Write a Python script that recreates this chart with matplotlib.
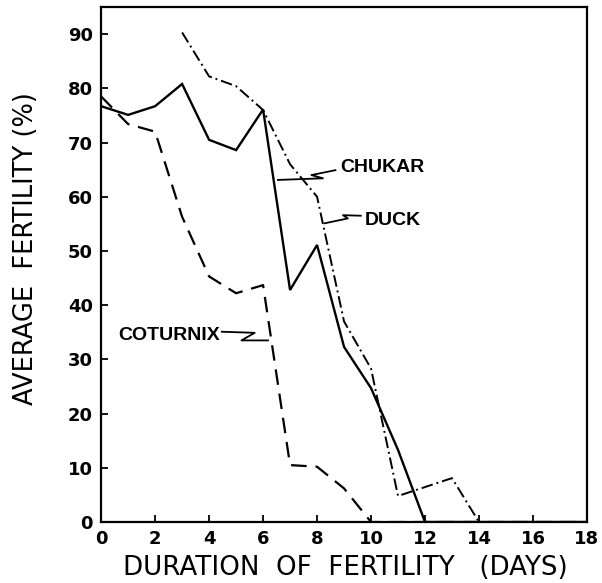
import matplotlib
matplotlib.use('Agg')
import matplotlib.pyplot as plt

# data
chukar_days = [0, 1, 2, 3, 4, 5, 6, 7, 8, 9, 10, 11, 12, 18]
chukar_fert = [76.7, 75.1, 76.7, 80.8, 70.5, 68.6, 76.1, 42.8, 51.1, 32.3, 24.7, 13.3, 0, 0]

duck_days = [3, 4, 5, 6, 7, 8, 9, 10, 11, 13, 14, 18]
duck_fert = [90.3, 82.2, 80.4, 76.0, 66.0, 60.0, 37.0, 28.3, 4.8, 8.1, 0, 0]

coturnix_days = [0, 1, 2, 3, 4, 5, 6, 7, 8, 9, 10, 18]
coturnix_fert = [78.5, 73.4, 72.0, 56.3, 45.3, 42.2, 43.7, 10.5, 10.2, 6.2, 0, 0]

x_ticks = list(range(0, 19, 2))
y_ticks = list(range(0, 91, 10))

# label text and leader (zig-zag) points in data units
labels = ['CHUKAR', 'DUCK', 'COTURNIX']
label_pos = [(8.85, 65.4), (9.75, 55.7), (4.4, 34.4)]
label_ha = ['left', 'left', 'right']
leader_x = [[8.68, 7.79, 8.22, 6.55],
            [9.62, 8.96, 9.14, 8.28],
            [4.47, 5.69, 5.20, 6.18]]
leader_y = [[64.9, 64.0, 63.4, 63.1],
            [56.5, 56.6, 56.0, 55.1],
            [35.1, 34.9, 33.5, 33.5]]

fig = plt.figure(figsize=(6.02, 5.83), dpi=100)
ax = fig.add_axes([0.168, 0.1046, 0.807, 0.8834])

ax.plot(chukar_days, chukar_fert, color='black', lw=1.7, solid_joinstyle='miter')
ax.plot(duck_days, duck_fert, color='black', lw=1.4, dashes=(6, 2, 1, 2))
ax.plot(coturnix_days, coturnix_fert, color='black', lw=1.6, dashes=(7, 4))

for txt, (tx, ty), ha, lx, ly in zip(labels, label_pos, label_ha, leader_x, leader_y):
    ax.plot(lx, ly, color='black', lw=1.3)
    ax.text(tx, ty, txt, ha=ha, va='center', fontsize=14, fontweight='bold',
            family='Liberation Sans')

ax.set_xlim(0, 18)
ax.set_ylim(0, 95)
ax.set_xticks(x_ticks)
ax.set_yticks(y_ticks)
ax.tick_params(direction='in', length=5, width=1.3, labelsize=13, pad=6)
for lab in ax.get_xticklabels() + ax.get_yticklabels():
    lab.set_fontweight('bold')
for sp in ax.spines.values():
    sp.set_linewidth(1.6)

ax.set_xlabel('DURATION  OF  FERTILITY   (DAYS)', fontsize=18.8)
ax.set_ylabel('AVERAGE  FERTILITY (%)', fontsize=18.5)
ax.xaxis.set_label_coords(0.502, -0.064)
ax.yaxis.set_label_coords(-0.128, 0.53)

fig.savefig('out.png', dpi=100)
